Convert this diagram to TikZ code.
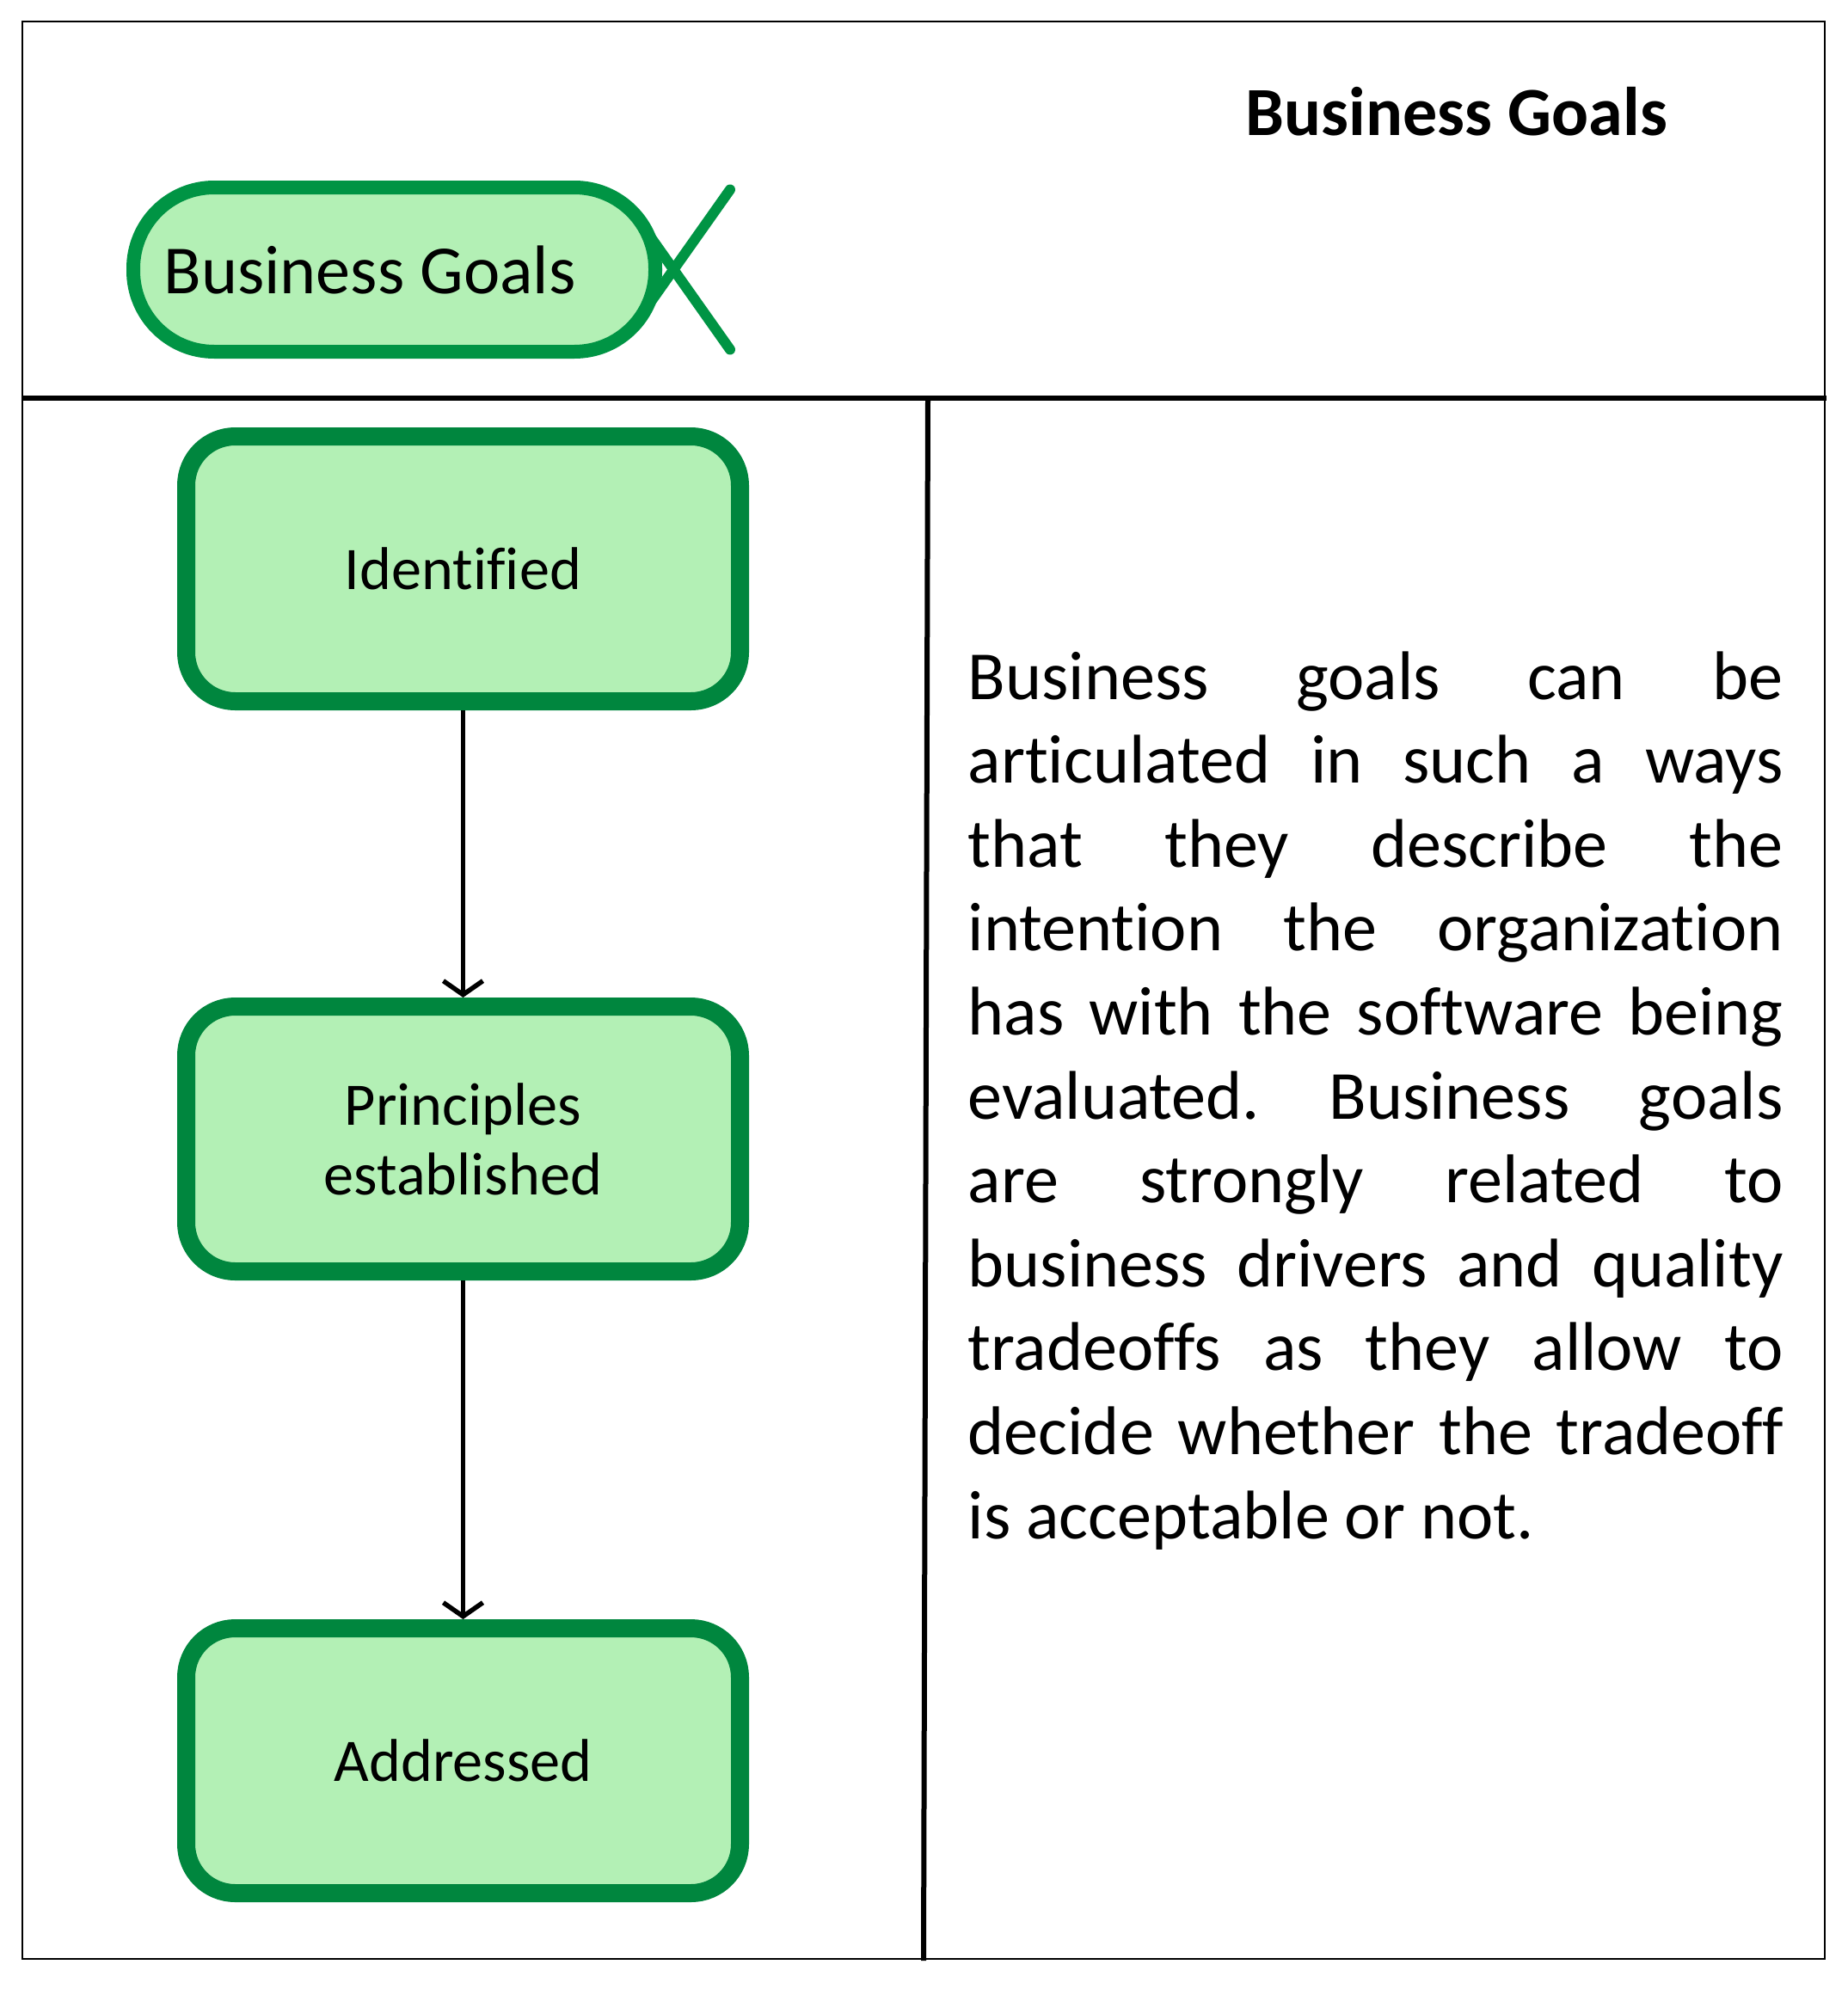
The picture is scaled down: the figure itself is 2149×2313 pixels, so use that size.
\documentclass[tikz,border=0pt]{standalone}
\usepackage{fontspec}
\setmainfont{Carlito}[Ligatures=NoCommon]
\usetikzlibrary{arrows.meta}
\definecolor{goalgreen}{RGB}{0,148,68}
\definecolor{boxgreen}{RGB}{0,134,62}
\definecolor{boxfill}{RGB}{179,240,181}
\tikzset{
	state/.style={rectangle,rounded corners=5.7mm,draw=boxgreen,line width=2.1mm,fill=boxfill,minimum width=64.4mm,minimum height=30.8mm,align=center,font=\fontsize{20}{23}\selectfont},
	goal/.style={rectangle,rounded corners=9.4mm,draw=goalgreen,line width=1.6mm,fill=boxfill,minimum width=60.7mm,minimum height=19.1mm,font=\fontsize{22.8}{27.8}\selectfont},
	tail/.style={draw=goalgreen,line width=1.2mm,line cap=round},
	flow/.style={-{Straight Barb[length=1.6mm,width=4.6mm]},line width=0.55mm},
	lane/.style={line width=0.6mm}
}
\begin{document}
\begin{tikzpicture}[x=0.1mm,y=-0.1mm]
						\useasboundingbox (0,0) rectangle (2149,2313);
						\draw [line width=0.25mm] (26,25) rectangle (2122,2278);
						\draw [lane] (26,463) -- (2124,463);
						\draw [lane] (1079,463) -- (1074,2280);

						\node [anchor=base west,inner sep=0pt,font=\fontsize{22.8}{27.8}\selectfont\bfseries] (title) at (1448,158) {Business Goals};
						\node [goal] (goal) at (458.5,313.5) {Business Goals\hspace*{5.7mm}};
						\draw [tail] (goal.east) ++(-15,-40) -- ++(94,133);
						\draw [tail] (goal.east) ++(-15,40) -- ++(94,-133);

						\node [state] (ident) at (538.5,661.5) {Identified};
						\node [state] (princ) at (538.5,1324.5) {Principles\\established};
						\node [state] (addr) at (538.5,2047.5) {Addressed};

						\draw [flow] (ident) -- (princ);
						\draw [flow] (princ) -- (addr);

						\node [anchor=base west,text width=94.8mm,align=justify,inner sep=0pt,font=\fontsize{22.8}{27.77}\selectfont] (desc) at (1125,813) {\tolerance=10000 \hyphenpenalty=10000 \frenchspacing
						Business goals can be\linebreak
						articulated in such a ways\linebreak
						that they describe the\linebreak
						intention the organization\linebreak
						has with the software being\linebreak
						evaluated. Business goals\linebreak
						are strongly related to\linebreak
						business drivers and quality\linebreak
						tradeoffs as they allow to\linebreak
						decide whether the tradeoff\linebreak
						is acceptable or not.};
					\end{tikzpicture}
\end{document}
